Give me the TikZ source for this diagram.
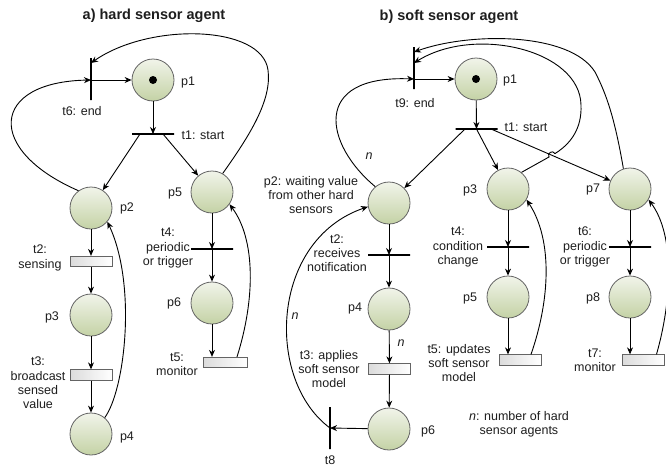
\documentclass[tikz,border=0pt]{standalone}
\usepackage{fontspec}
\setmainfont{Liberation Sans}
\usetikzlibrary{arrows.meta,calc}
\definecolor{pltop}{RGB}{241,244,234}
\definecolor{plbot}{RGB}{196,210,165}
\definecolor{plborder}{RGB}{100,100,100}
\definecolor{txt}{RGB}{30,30,30}
\begin{document}
\begin{tikzpicture}[x=1pt,y=-1pt,
  place/.style={circle, draw=plborder, line width=0.8pt, minimum size=42pt, inner sep=0pt, top color=pltop, bottom color=plbot},
  hbar/.style={draw=black, line width=2pt, minimum width=42pt, minimum height=0pt, inner sep=0pt, outer sep=0pt},
  vbar/.style={draw=black, line width=2pt, minimum height=42pt, minimum width=0pt, inner sep=0pt, outer sep=0pt},
  tbox/.style={rectangle, draw=plborder, line width=0.8pt, minimum width=42pt, minimum height=10.5pt, inner sep=0pt, left color=gray!28, right color=white},
  token/.style={circle, fill=black, minimum size=8pt, inner sep=0pt},
  lbl/.style={font=\fontsize{12.5}{14.3}\selectfont, text=txt, inner sep=0pt, align=center},
  ttl/.style={font=\fontsize{14.5}{17}\selectfont\bfseries, text=txt, inner sep=0pt},
  arr/.style={line width=0.9pt, -{Stealth[length=7pt,width=6pt]}},
  ln/.style={line width=0.9pt}]
\fill[white] (0,0) rectangle (666,466);
\path[use as bounding box] (0,0) rectangle (666,466);

% ---------------- (a) ----------------
\node[ttl] (ta) at (154,16) {a) hard sensor agent};
\node[place] (p1a) at (153,80) {};
\node[token] (tka) at (p1a) {};
\node[place] (p2a) at (91,208) {};
\node[place] (p5a) at (212,192) {};
\node[place] (p3a) at (91,315) {};
\node[place] (p6a) at (212,303) {};
\node[place] (p4a) at (91,434) {};
\node[vbar] (t6a) at (91,79) {};
\node[hbar] (t1a) at (153,134) {};
\node[hbar] (t4a) at (212,249) {};
\node[tbox] (t2a) at (91,261.5) {};
\node[tbox] (t3a) at (91,375) {};
\node[tbox, minimum width=44pt] (t5a) at (225,362.5) {};

\node[lbl] (lp1a) at (188,82) {p1};
\node[lbl] (lt6a) at (82,111) {t6: end};
\node[lbl] (lt1a) at (203,135) {t1: start};
\node[lbl] (lp2a) at (127,208) {p2};
\node[lbl] (lp5a) at (175,193) {p5};
\node[lbl] (lt2a) at (40,258) {t2:\\sensing};
\node[lbl] (lt4a) at (168,248) {t4:\\periodic\\or trigger};
\node[lbl] (lp3a) at (52,317) {p3};
\node[lbl] (lp6a) at (174,303) {p6};
\node[lbl] (lt3a) at (38,383) {t3:\\broadcast\\sensed\\value};
\node[lbl] (lt5a) at (177,364) {t5:\\monitor};
\node[lbl] (lp4a) at (127,437) {p4};

\coordinate (t6am) at (t6a.center |- p1a);
\coordinate (t6at) at ([yshift=16pt]t6a.center);
\draw[arr] (t6am) -- (p1a);
\draw[arr] (p1a) -- (t1a);
\draw[arr] ([xshift=-13pt]t1a.center) -- (p2a);
\draw[arr] ([xshift=10pt]t1a.center) -- (p5a);
\draw[arr] (p2a) -- (t2a);
\draw[arr] (t2a) -- (p3a);
\draw[arr] (p3a) -- (t3a);
\draw[arr] (t3a) -- (p4a);
\draw[arr] (p5a) -- (t4a);
\draw[arr] (t4a) -- (p6a);
\draw[arr] (p6a) -- (p6a |- t5a.north);
\draw[arr] (p2a.126) .. controls (-15,150) and (-10,82) .. (t6am);
\draw[arr] (p5a.60) .. controls (250,135) and (272,100) .. (268,70) .. controls (262,25) and (150,22) .. (t6at);
\draw[arr] (p4a.50) .. controls (125,390) and (137,285) .. (p2a.-40);
\draw[arr] ([xshift=12pt]t5a.north) .. controls (255,300) and (256,240) .. (p5a.-35);

% ---------------- (b) ----------------
\node[ttl] (tb) at (449,17) {b) soft sensor agent};
\node[place] (p1b) at (476,79) {};
\node[token] (tkb) at (p1b) {};
\node[place] (p2b) at (389,203) {};
\node[place] (p3b) at (508,189) {};
\node[place] (p7b) at (630,189) {};
\node[place] (p4b) at (389,309) {};
\node[place] (p5b) at (508,297) {};
\node[place] (p8b) at (630,297) {};
\node[place] (p6b) at (389,429) {};
\node[vbar] (t9b) at (414,68) {};
\node[hbar] (t1b) at (476.5,129) {};
\node[hbar] (t2b) at (389,255) {};
\node[hbar] (t4b) at (508,247) {};
\node[hbar] (t6b) at (630,247) {};
\node[vbar] (t8b) at (330,428) {};
\node[tbox] (t3b) at (389.5,369) {};
\node[tbox] (t5b) at (520,360) {};
\node[tbox] (t7b) at (643.5,360) {};

\node[lbl] (lp1b) at (510,80) {p1};
\node[lbl] (lt9b) at (415,103) {t9: end};
\node[lbl] (lt1b) at (526,127) {t1: start};
\node[lbl] (lnb1) at (369,156) {\itshape n};
\node[lbl] (lp2b) at (311,195) {p2: waiting value\\from other hard\\sensors};
\node[lbl] (lp3b) at (470,190) {p3};
\node[lbl] (lp7b) at (593,189) {p7};
\node[lbl] (lt2b) at (337,253) {t2:\\receives\\notification};
\node[lbl] (lt4b) at (458,247) {t4:\\condition\\change};
\node[lbl] (lt6b) at (585,247) {t6:\\periodic\\or trigger};
\node[lbl] (lp4b) at (355,308) {p4};
\node[lbl] (lp5b) at (470,298) {p5};
\node[lbl] (lp8b) at (593,298) {p8};
\node[lbl] (lnb2) at (295,316) {\itshape n};
\node[lbl] (lnb3) at (401,343) {\itshape n};
\node[lbl] (lt3b) at (329,369) {t3: applies\\soft sensor\\model};
\node[lbl] (lt5b) at (459,363) {t5: updates\\soft sensor\\model};
\node[lbl] (lt7b) at (595,360) {t7:\\monitor};
\node[lbl] (lnote) at (519,424) {\textit{n}: number of hard\\sensor agents};
\node[lbl] (lp6b) at (428,431) {p6};
\node[lbl] (lt8b) at (330,460) {t8};

\coordinate (t9in) at ([yshift=-11pt]t9b.center);
\coordinate (t9c1) at ([yshift=16pt]t9b.center);
\coordinate (t9c2) at ([yshift=5pt]t9b.center);
\coordinate (t1bL) at ([xshift=-11.5pt]t1b.center);
\coordinate (t1bR) at ([xshift=14.5pt]t1b.center);
\coordinate (X) at ($(t1bR)!0.4388!(p7b)$);
\coordinate (hE) at ($(X)!3.5pt!(p3b.51)$);
\coordinate (hF) at ($(X)!-3.5pt!(p3b.51)$);
\coordinate (hC1) at ($(hE)!4.6pt!90:(X)$);
\coordinate (hC2) at ($(hF)!4.6pt!-90:(X)$);

\draw[arr] (t9in) -- (p1b);
\draw[arr] (p1b) -- (t1b);
\draw[arr] (t1bL) -- (p2b);
\draw[arr] (t1b.center) -- (p3b);
% inner loop p3 -> t9 (with line jump)
\draw[arr] (p3b.51) -- (X) .. controls ($(X)!-22pt!(p3b.51)$) and (582,128) .. (581,105) .. controls (580,50) and (475,25) .. (t9c2);
\fill[white] (X) circle (3.2pt);
\draw[arr] (t1bR) -- (p7b);
\draw[ln] (hE) .. controls (hC1) and (hC2) .. (hF);
% outer loop p7 -> t9
\draw[arr] (p7b.108) .. controls (615,120) and (607,95) .. (595,72) .. controls (570,32) and (470,32) .. (t9c1);
% p2 -> t9
\draw[arr] (p2b.130) .. controls (325,145) and (310,75) .. (t9in);

\draw[arr] (p2b) -- (t2b);
\draw[arr] (t2b) -- (p4b);
\draw[arr] (p4b) -- (t3b);
\draw[arr] (t3b) -- (p6b);
\draw[arr] (p6b) -- (t8b);
\draw[arr] (t8b.center) .. controls (265,380) and (270,240) .. (p2b.190);

\draw[arr] (p3b) -- (t4b);
\draw[arr] (t4b) -- (p5b);
\draw[arr] (p5b) -- (p5b |- t5b.north);
\draw[arr] ([xshift=11pt]t5b.north) .. controls (550,300) and (553,240) .. (p3b.-30);

\draw[arr] (p7b) -- (t6b);
\draw[arr] (t6b) -- (p8b);
\draw[arr] (p8b) -- (p8b |- t7b.north);
\draw[arr] ([xshift=13pt]t7b.north) .. controls (672,300) and (675,235) .. (p7b.-30);
\end{tikzpicture}
\end{document}
